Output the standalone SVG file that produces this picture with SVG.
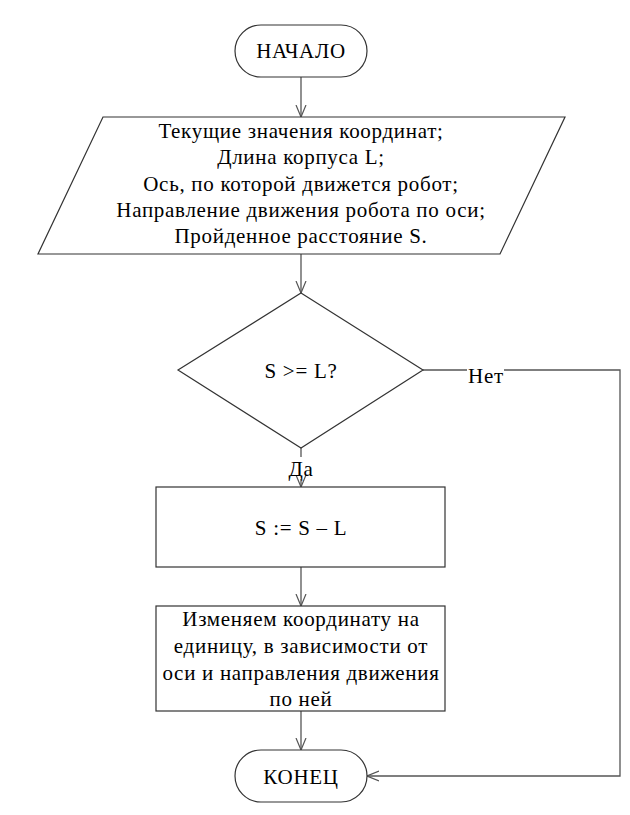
<svg xmlns="http://www.w3.org/2000/svg" width="630" height="815" viewBox="0 0 630 815">
<style>
.s{fill:#fff;stroke:#333;stroke-width:1.2}
.c{fill:none;stroke:#555;stroke-width:1.3}
text{font-family:"Liberation Serif","Times New Roman",serif;font-size:21px;letter-spacing:0.7px;fill:#000;text-anchor:middle}
</style>
<defs>
<marker id="a" viewBox="0 0 12 12" refX="12" refY="6" markerWidth="12" markerHeight="12" markerUnits="userSpaceOnUse" orient="auto">
<path d="M0,1 L12,6 L0,11" fill="none" stroke="#555" stroke-width="1.2"/>
</marker>
</defs>
<g id="connectors">
<line class="c" x1="301" y1="77" x2="301" y2="117" marker-end="url(#a)"/>
<line class="c" x1="301" y1="254" x2="301" y2="293" marker-end="url(#a)"/>
<line class="c" x1="301" y1="448" x2="301" y2="457"/>
<line class="c" x1="301" y1="479" x2="301" y2="487" marker-end="url(#a)"/>
<line class="c" x1="301" y1="567" x2="301" y2="606" marker-end="url(#a)"/>
<line class="c" x1="301" y1="711" x2="301" y2="750" marker-end="url(#a)"/>
<polyline class="c" points="423,370 620,370 620,776 367,776" marker-end="url(#a)"/>
<rect x="467" y="366" width="37" height="20" fill="#fff"/>
<text x="486" y="383">Нет</text>
<text x="301" y="476">Да</text>
</g>
<g id="start">
<rect class="s" x="235" y="25" width="132" height="52" rx="26"/>
<text x="301" y="58">НАЧАЛО</text>
</g>
<g id="input">
<polygon class="s" points="103,117 565,117 500,254 38,254"/>
<text x="301" y="138">Текущие значения координат;</text>
<text x="301" y="164">Длина корпуса L;</text>
<text x="301" y="191">Ось, по которой движется робот;</text>
<text x="301" y="217">Направление движения робота по оси;</text>
<text x="301" y="243">Пройденное расстояние S.</text>
</g>
<g id="decision">
<polygon class="s" points="301,293 423,370 301,448 178,370"/>
<text x="301" y="378">S &gt;= L?</text>
</g>
<g id="assign">
<rect class="s" x="156" y="487" width="289" height="80"/>
<text x="301" y="535">S := S – L</text>
</g>
<g id="update">
<rect class="s" x="156" y="606" width="289" height="105"/>
<text x="301" y="626">Изменяем координату на</text>
<text x="301" y="653">единицу, в зависимости от</text>
<text x="301" y="680">оси и направления движения</text>
<text x="301" y="706">по ней</text>
</g>
<g id="end">
<rect class="s" x="235" y="750" width="132" height="52" rx="26"/>
<text x="301" y="784">КОНЕЦ</text>
</g>
</svg>
